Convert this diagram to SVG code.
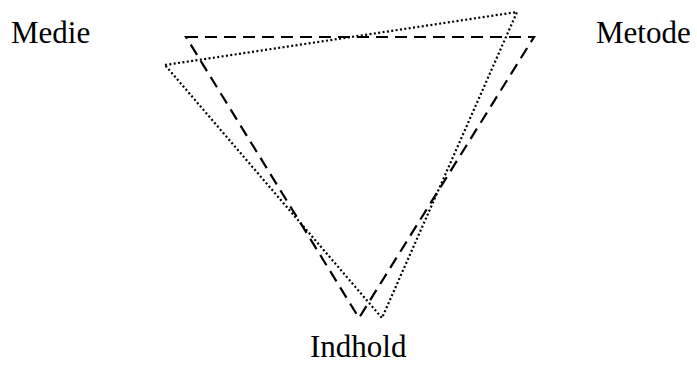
<svg xmlns="http://www.w3.org/2000/svg" width="697" height="365" viewBox="0 0 697 365">
<style>
.lbl{font-family:"Liberation Serif","Times New Roman",serif;font-size:31px;fill:#000}
.dash{fill:none;stroke:#000;stroke-width:2.2;stroke-dasharray:12 7}
.dot{fill:none;stroke:#000;stroke-width:2.2;stroke-dasharray:2 2.4}
</style>
<rect width="697" height="365" fill="#fff"/>
<g id="connectors">
<polygon class="dash" points="186,37 534,37 359,318"/>
<polygon class="dot" points="165,65 517,12 382,318"/>
</g>
<g id="medie"><text class="lbl" x="11" y="43">Medie</text></g>
<g id="metode"><text class="lbl" x="596" y="43">Metode</text></g>
<g id="indhold"><text class="lbl" x="310" y="357">Indhold</text></g>
</svg>
